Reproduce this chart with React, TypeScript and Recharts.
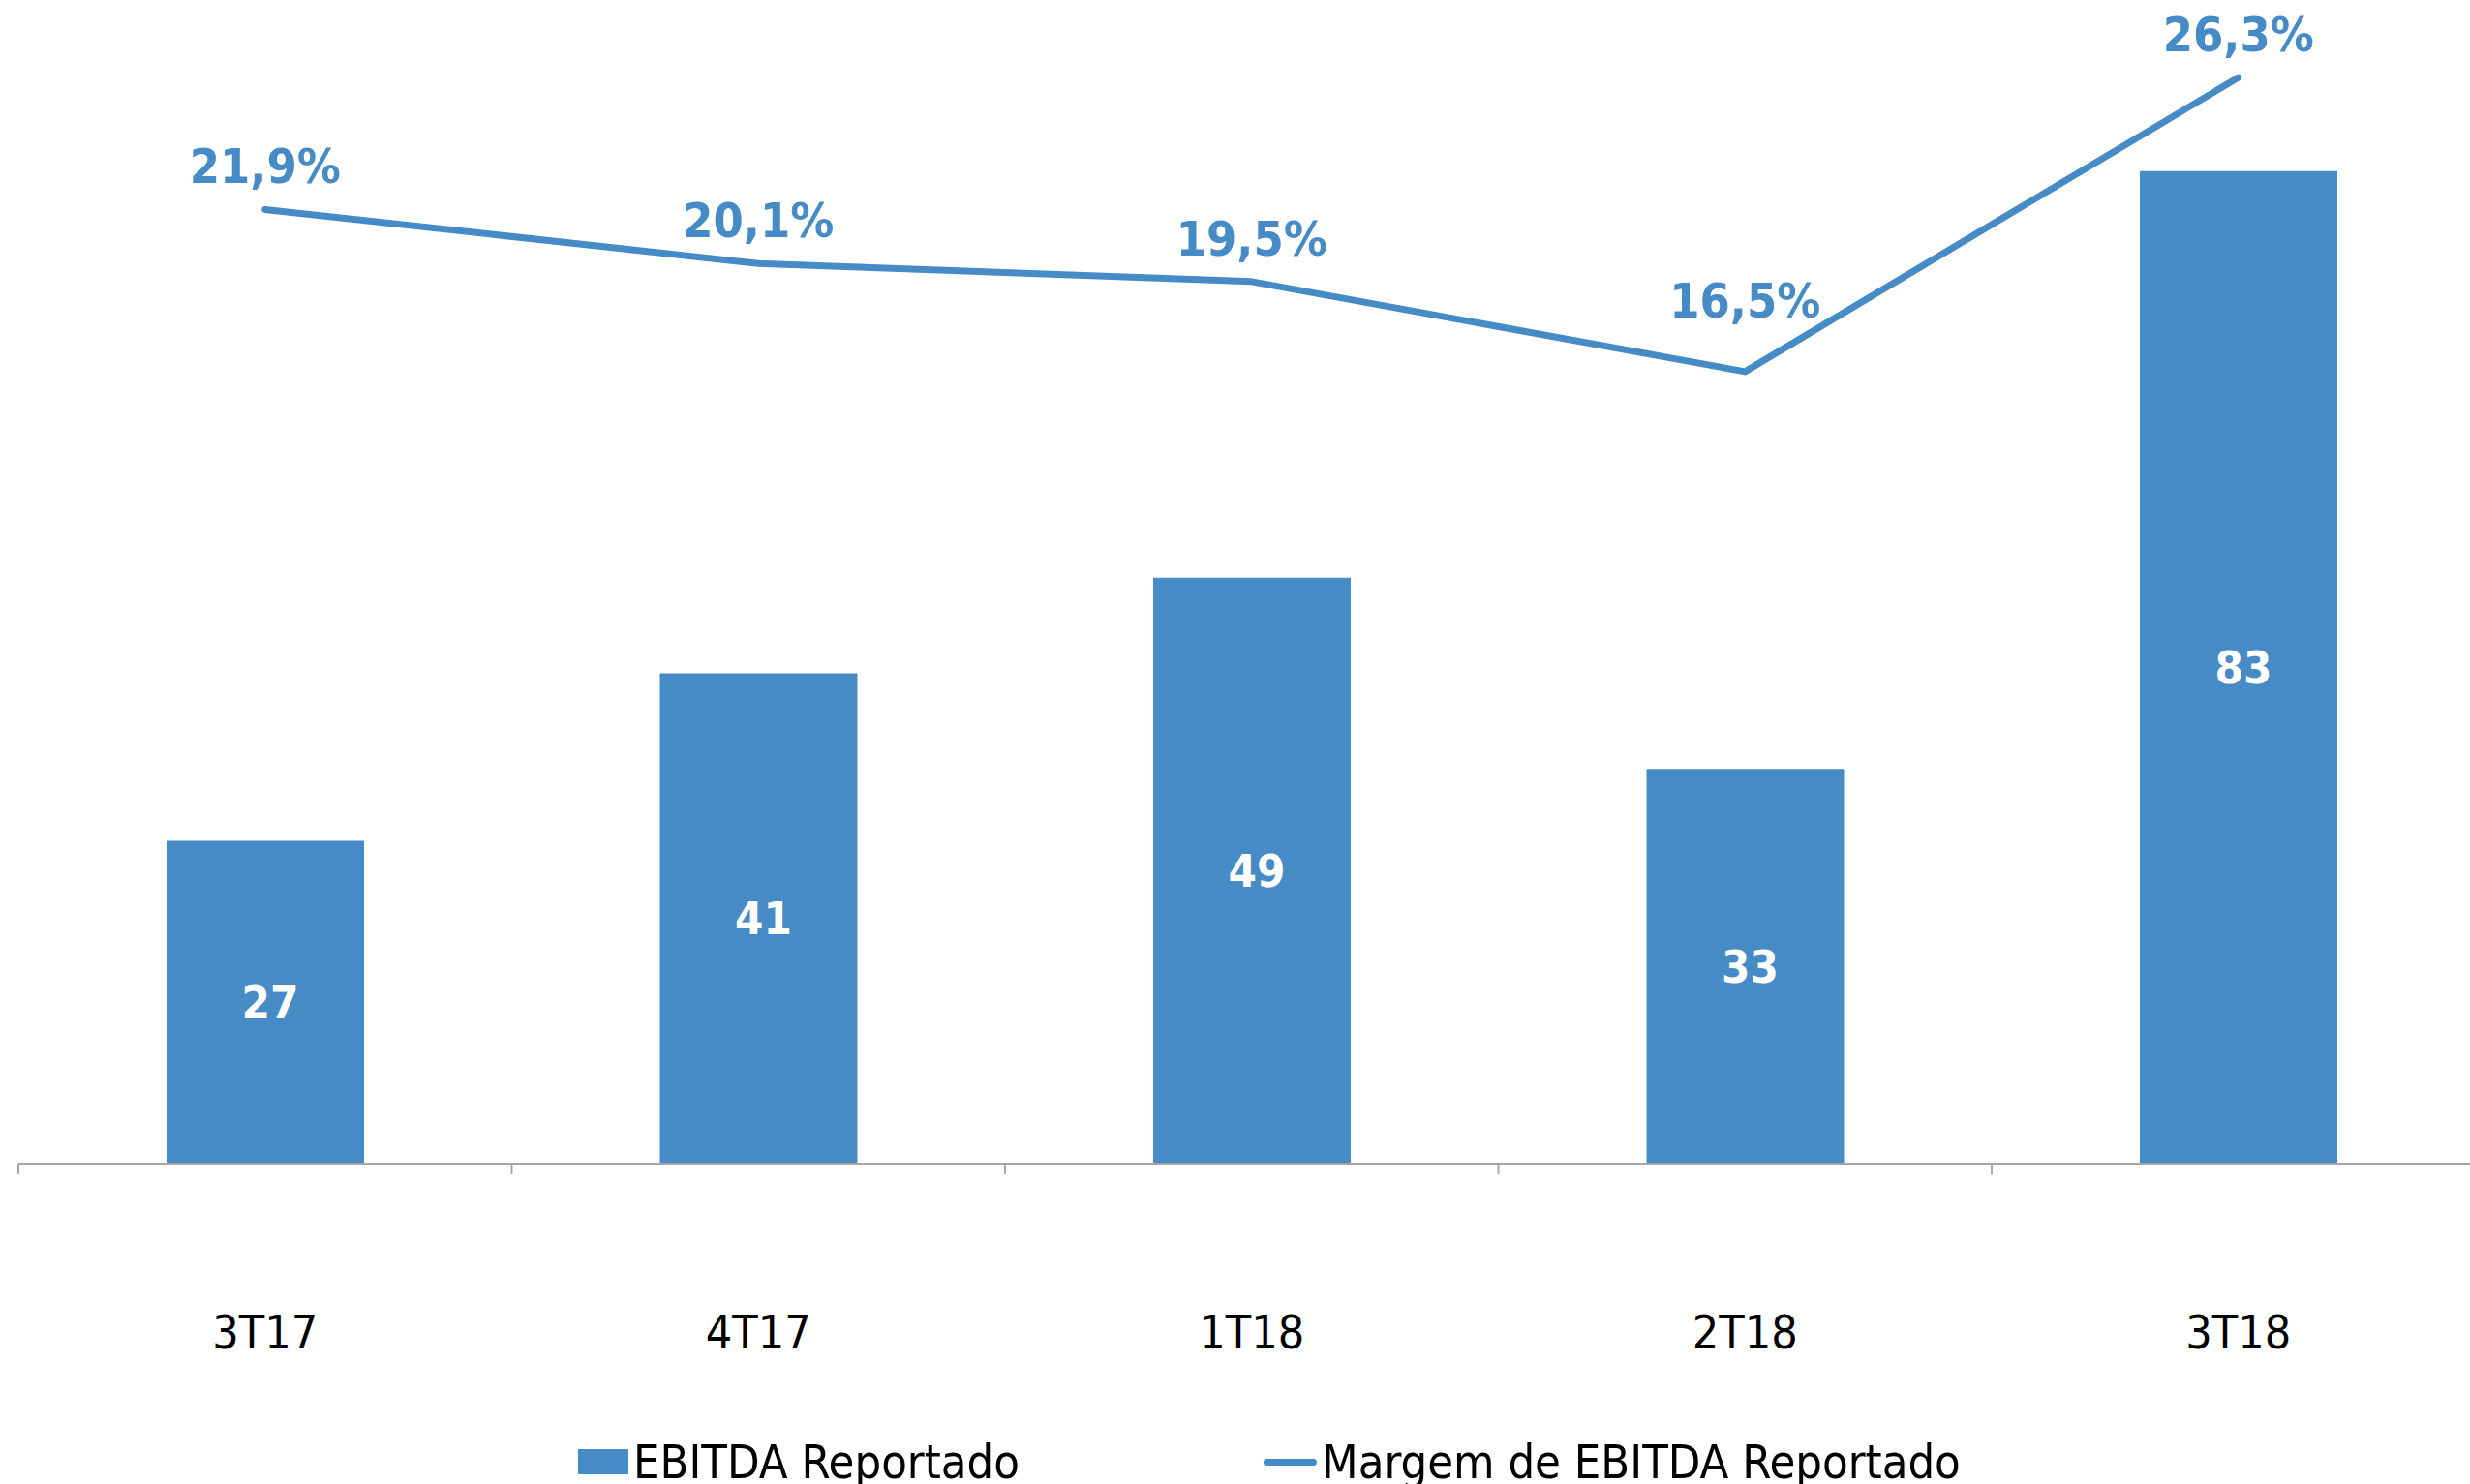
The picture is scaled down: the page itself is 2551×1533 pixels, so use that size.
import { ComposedChart, Bar, Line, XAxis, YAxis, LabelList } from "recharts";

const quarters = ["3T17", "4T17", "1T18", "2T18", "3T18"];
const ebitdaReportado = [27, 41, 49, 33, 83];
const margemEbitda = [21.9, 20.1, 19.5, 16.5, 26.3];

const BLUE = "#478BC6";
const FONT = "'DejaVu Sans Condensed', 'DejaVu Sans', sans-serif";
const PLOT_LEFT = 19;
const BAND = 509.5;

const data = quarters.map((q, i) => ({
  quarter: q,
  ebitda: ebitdaReportado[i],
  margem: margemEbitda[i],
}));

const fmtPct = (v: number) => `${v.toFixed(1).replace(".", ",")}%`;

// ticks sit on the category boundaries (Excel style), labels in the middle
function CategoryTick(props: any) {
  const { x, y, payload } = props;
  const left = x - BAND / 2;
  return (
    <g>
      <line x1={left} x2={left} y1={y} y2={y + 11} stroke="#A6A6A6" strokeWidth={2} />
      <text
        x={x}
        y={y + 174}
        textAnchor="middle"
        dominantBaseline="central"
        fontFamily={FONT}
        fontSize={48}
        fill="#000"
      >
        {payload.value}
      </text>
    </g>
  );
}

// the 2T18 label was pushed higher in the original so it clears the line
function PctLabel(props: any) {
  const { x, y, value, index } = props;
  const lift = index === 3 ? 73 : 44;
  return (
    <text
      x={x}
      y={y - lift}
      textAnchor="middle"
      dominantBaseline="central"
      fill={BLUE}
      fontFamily={FONT}
      fontWeight="bold"
      fontSize={50}
    >
      {fmtPct(Number(value))}
    </text>
  );
}

export default function App() {
  return (
    <div
      style={{
        position: "fixed",
        top: 0,
        left: 0,
        width: 2551,
        height: 1533,
        overflow: "hidden",
        background: "#fff",
      }}
    >
      <ComposedChart
        width={PLOT_LEFT + BAND * 5}
        height={1420}
        data={data}
        margin={{ top: 10, right: 0, left: PLOT_LEFT, bottom: 0 }}
      >
        <XAxis
          dataKey="quarter"
          height={218}
          axisLine={{ stroke: "#A6A6A6", strokeWidth: 2 }}
          tickLine={false}
          tickSize={0}
          tickMargin={0}
          interval={0}
          tick={<CategoryTick />}
        />
        <YAxis yAxisId="bar" hide domain={[0, 96.5]} />
        <YAxis yAxisId="pct" orientation="right" hide domain={[-9.89, 28.56]} />
        <Bar yAxisId="bar" dataKey="ebitda" fill={BLUE} barSize={204} isAnimationActive={false}>
          <LabelList
            dataKey="ebitda"
            position="center"
            fill="#fff"
            fontFamily={FONT}
            fontWeight="bold"
            fontSize={47}
            dx={5}
          />
        </Bar>
        <Line
          yAxisId="pct"
          dataKey="margem"
          stroke={BLUE}
          strokeWidth={7}
          strokeLinecap="round"
          strokeLinejoin="round"
          dot={false}
          activeDot={false}
          isAnimationActive={false}
        >
          <LabelList dataKey="margem" content={<PctLabel />} />
        </Line>
      </ComposedChart>

      {/* legend, partly cut by the bottom edge like the original slide */}
      <div
        style={{
          position: "absolute",
          top: 1482,
          left: 597,
          display: "flex",
          alignItems: "center",
          fontFamily: FONT,
          fontSize: 48.5,
          color: "#000",
          whiteSpace: "nowrap",
        }}
      >
        <span style={{ display: "inline-block", width: 52, height: 26, background: BLUE, marginRight: 5 }} />
        <span>EBITDA Reportado</span>
        <span
          style={{
            display: "inline-block",
            width: 55,
            height: 7,
            borderRadius: 4,
            background: BLUE,
            marginLeft: 252,
            marginRight: 5,
          }}
        />
        <span>Margem de EBITDA Reportado</span>
      </div>
    </div>
  );
}
